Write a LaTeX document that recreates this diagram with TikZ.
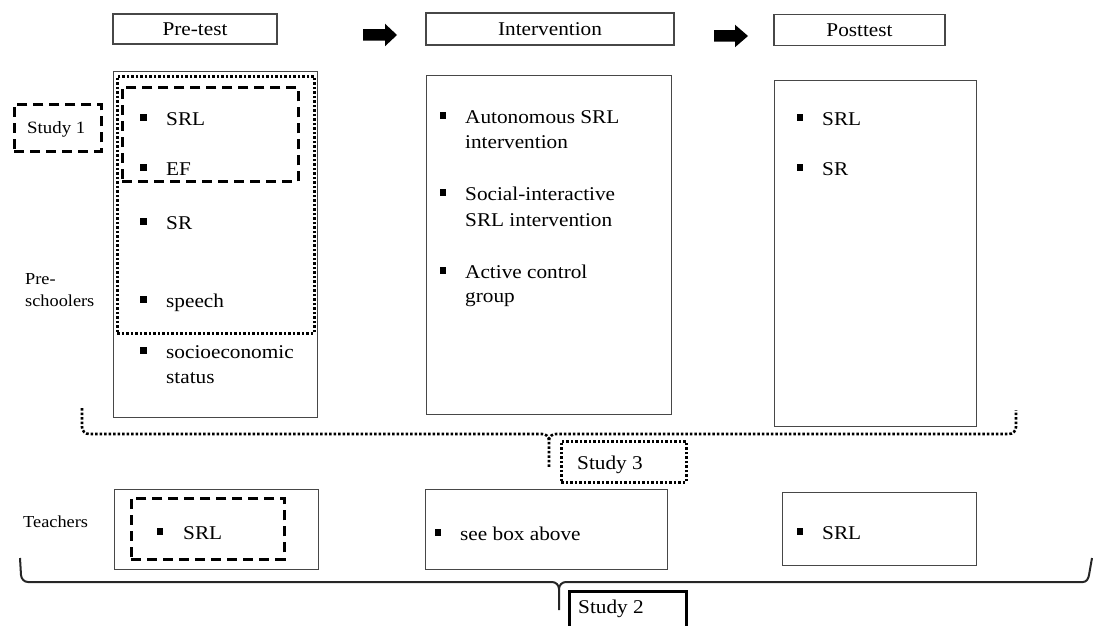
\documentclass[tikz,border=0pt]{standalone}
\usepackage{fontspec}
\setmainfont{Liberation Serif}[FakeStretch=1.09]
\newcommand\rbox[6]{\node[#2, anchor=north west, inner sep=0pt, minimum width={#5-#3}, minimum height={#6-#4}] (#1) at (#3,#4) {};}
\newcommand\itm[5]{\node[txt] (#1) at (#3,#4) {#5}; \node[bul] (#1b) at (#2,#4-7.5) {};}
\newcommand\cont[4]{\node[txt] (#1) at (#2,#3) {#4};}
\begin{document}
\begin{tikzpicture}[x=1pt,y=-1pt,
  box/.style={draw=black!72, line width=1.1pt},
  dashbox/.style={draw=black, line width=2.6pt, dash pattern=on 10pt off 6pt},
  dotbox/.style={draw=black, line width=2.6pt, dash pattern=on 2.6pt off 1.9pt},
  dotline/.style={draw=black, line width=2.6pt, dash pattern=on 2.6pt off 1.9pt},
  braceline/.style={draw=black!85, line width=2pt},
  txt/.style={font=\fontsize{19.5}{25}\selectfont, inner sep=0pt, anchor=base west},
  lbl/.style={font=\fontsize{16.8}{22}\selectfont, inner sep=0pt, anchor=base west},
  hdr/.style={box, font=\fontsize{19.5}{25}\selectfont, inner sep=0pt},
  bul/.style={fill=black, inner sep=0pt, minimum size=6.5pt},
]
\useasboundingbox (0,0) rectangle (1093,626);
\clip (0,0) rectangle (1093,626);

% header boxes
\node[hdr, minimum width=164, minimum height=30] (hpre) at (195,29) {Pre-test};
\node[hdr, minimum width=248, minimum height=32] (hint) at (550,29) {Intervention};
\node[hdr, minimum width=171, minimum height=31] (hpost) at (859.5,30) {Posttest};

% block arrows
\coordinate (a1) at (363,35);
\coordinate (a2) at (714,36);
\fill[black] (a1) ++(0,-5.75) -- ++(22,0) -- ++(0,-5.5) -- ++(12,11.25) -- ++(-12,11.25) -- ++(0,-5.5) -- ++(-22,0) -- cycle;
\fill[black] (a2) ++(0,-5.75) -- ++(21,0) -- ++(0,-5.5) -- ++(13,11.25) -- ++(-13,11.25) -- ++(0,-5.5) -- ++(-21,0) -- cycle;

% main boxes (pre-schoolers)
\rbox{pre}{box}{113}{71}{317}{417}
\rbox{predot}{dotbox}{116}{75}{313}{332}
\rbox{predash}{dashbox}{121}{86}{297}{180}
\rbox{int}{box}{426}{75}{671}{414}
\rbox{post}{box}{774}{80}{976}{426}

% pre-test items
\itm{p1}{143.5}{166}{125}{SRL}
\itm{p2}{143.5}{166}{175}{EF}
\itm{p3}{143.5}{166}{229}{SR}
\itm{p4}{143.5}{166}{307}{speech}
\itm{p5}{143.5}{166}{358}{socioeconomic}
\cont{p5b}{166}{383}{status}

% intervention items
\itm{i1}{443}{465}{123}{Autonomous SRL}
\cont{i1c}{465}{148}{intervention}
\itm{i2}{443}{465}{200}{Social-interactive}
\cont{i2c}{465}{226}{SRL intervention}
\itm{i3}{443}{465}{278}{Active control}
\cont{i3c}{465}{302}{group}

% posttest items
\itm{q1}{800}{822}{125}{SRL}
\itm{q2}{800}{822}{175}{SR}

% side labels
\rbox{s1box}{dashbox}{13}{103}{100}{150}
\node[lbl, font=\fontsize{17.3}{22}\selectfont] (s1) at (27,133) {Study 1};
\node[lbl] (ps1) at (25,284) {Pre-};
\node[lbl] (ps2) at (25,306) {schoolers};
\node[lbl] (teach) at (23,527) {Teachers};

% Study 3 brace (dotted)
\coordinate (b3l) at (82,408);
\coordinate (b3m) at (549,440);
\coordinate (b3t) at (549,467);
\coordinate (b3r) at (1016,410);
\draw[dotline] (b3l) -- (82,427) to[out=-90,in=180] (89,434) -- (542,434) to[out=0,in=90] (b3m) -- (b3t);
\draw[dotline] (b3m) to[out=90,in=180] (556,434) -- (1009,434) to[out=0,in=-90] (1016,427) -- (b3r);
\rbox{s3box}{dotbox}{560}{440}{685}{481}
\node[txt] (s3) at (577,469) {Study 3};

% teacher boxes
\rbox{tpre}{box}{114}{489}{318}{569}
\rbox{tpredash}{dashbox}{130}{497}{283}{558}
\rbox{tint}{box}{425}{489}{667}{569}
\rbox{tpost}{box}{782}{492}{976}{565}
\itm{t1}{160}{183}{539}{SRL}
\itm{t2}{438}{460}{540}{see box above}
\itm{t3}{800}{822}{539}{SRL}

% Study 2 brace (solid)
\coordinate (b2l) at (20,558);
\coordinate (b2m) at (559,589);
\coordinate (b2t) at (559,610);
\coordinate (b2r) at (1092,558);
\draw[braceline] (b2l) -- (21,575) to[out=-85,in=180] (28,582) -- (552,582) to[out=0,in=90] (b2m) -- (b2t);
\draw[braceline] (b2m) to[out=90,in=180] (566,582) -- (1083,582) to[out=0,in=-100] (1089,575) -- (b2r);
\rbox{s2box}{draw=black, line width=3pt}{568}{590}{685}{640}
\node[txt] (s2) at (578,613) {Study 2};
\end{tikzpicture}
\end{document}
